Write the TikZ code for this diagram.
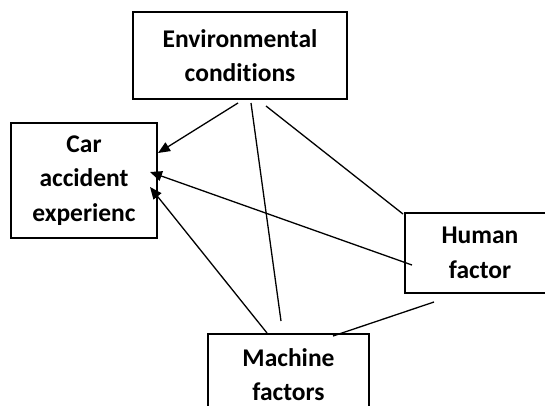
\documentclass[tikz,border=0pt]{standalone}
\usepackage{fontspec}
\setmainfont{Carlito}[Ligatures={NoCommon}]
\usetikzlibrary{arrows.meta}
\begin{document}
\begin{tikzpicture}[x=1pt,y=-1pt,
  box/.style={draw,line width=1.2pt,rectangle,align=center,inner sep=0pt,
    font=\bfseries\fontsize{25.5}{34.5}\selectfont},
  link/.style={line width=1.3pt},
  arr/.style={line width=1.3pt,-{Triangle[length=12pt,width=10pt]}}]
\useasboundingbox (0,0) rectangle (545,405);
\clip (0,0) rectangle (545,405);
\node[box,minimum width=214,minimum height=87] (env) at (240,55.5) {Environmental\\conditions};
\node[box,minimum width=146,minimum height=115] (car) at (84,180.5) {Car\\accident\\experienc};
\node[box,minimum width=150,minimum height=80] (hum) at (480,253) {Human\\factor};
\node[box,minimum width=161,minimum height=81] (mac) at (288.5,374.5) {Machine\\factors};
\coordinate (e1) at (238,103);
\coordinate (e2) at (251,103);
\coordinate (e3) at (266,106);
\coordinate (c1) at (158,153);
\coordinate (c2) at (150,172);
\coordinate (c3) at (150,187);
\coordinate (h1) at (403,214);
\coordinate (h2) at (412,265);
\coordinate (h3) at (434,302);
\coordinate (m1) at (281,321);
\coordinate (m2) at (267,333);
\coordinate (m3) at (333,336);
\draw[arr] (e1) -- (c1);
\draw[link] (e2) -- (m1);
\draw[link] (e3) -- (h1);
\draw[arr] (h2) -- (c2);
\draw[arr] (m2) -- (c3);
\draw[link] (h3) -- (m3);
\end{tikzpicture}
\end{document}
